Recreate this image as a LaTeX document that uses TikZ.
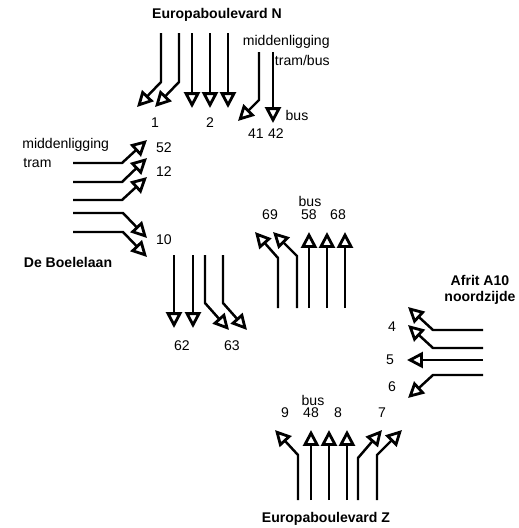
\documentclass[tikz,border=0pt]{standalone}
\usepackage{fontspec}
\setmainfont{Liberation Sans}
\usetikzlibrary{arrows.meta}
\tikzset{
  lane/.style={line width=1.4pt, -{Triangle[open,length=9pt,width=9pt,line width=1.6pt]}},
  lbl/.style={font=\fontsize{8pt}{9pt}\selectfont, inner sep=0pt},
  road/.style={font=\fontsize{8pt}{9pt}\selectfont\bfseries, inner sep=0pt, align=center}
}
\begin{document}
\begin{tikzpicture}[x=0.02cm,y=-0.02cm]
  \useasboundingbox (0,0) rectangle (519,528);
  % Europaboulevard N
  \node[road] (roadN) at (217,15) {Europaboulevard N};
  \draw[lane] (161,33) -- (161,82) -- (137,107);
  \draw[lane] (179,33) -- (179,82) -- (155,107);
  \draw[lane] (192,33) -- (192,108);
  \draw[lane] (210,33) -- (210,108);
  \draw[lane] (228,33) -- (228,108);
  \draw[lane] (259,52) -- (259,100) -- (238,121);
  \draw[lane] (273,52) -- (273,123);
  \node[lbl, anchor=east] (midN) at (330,42) {middenligging};
  \node[lbl, anchor=east] (tramN) at (330,60) {tram/bus};
  \node[lbl] (l1) at (155,123) {1};
  \node[lbl] (l2) at (210,123) {2};
  \node[lbl] (l41) at (256,134) {41};
  \node[lbl] (l42) at (276,134) {42};
  \node[lbl] (busN) at (297,115) {bus};
  % De Boelelaan
  \node[road] (roadW) at (68,262) {De Boelelaan};
  \draw[lane] (73,163) -- (122,163) -- (147,140);
  \draw[lane] (73,182) -- (122,182) -- (147,158);
  \draw[lane] (73,200) -- (122,200) -- (147,177);
  \draw[lane] (73,213) -- (123,213) -- (147,238);
  \draw[lane] (73,232) -- (123,232) -- (147,257);
  \node[lbl, anchor=west] (midW) at (22,145) {middenligging};
  \node[lbl, anchor=west] (tramW) at (23,163) {tram};
  \node[lbl] (l52) at (164,148) {52};
  \node[lbl] (l12) at (164,172) {12};
  \node[lbl] (l10) at (164,240) {10};
  % afslaande stroken midden
  \draw[lane] (278,308) -- (278,258) -- (255,232);
  \draw[lane] (297,308) -- (297,256) -- (273,232);
  \draw[lane] (309,308) -- (309,232);
  \draw[lane] (327,308) -- (327,232);
  \draw[lane] (345,308) -- (345,232);
  \node[lbl] (busM) at (310,201) {bus};
  \node[lbl] (l69) at (270,215) {69};
  \node[lbl] (l58) at (309,215) {58};
  \node[lbl] (l68) at (338,215) {68};
  \draw[lane] (174,255) -- (174,328);
  \draw[lane] (193,255) -- (193,328);
  \draw[lane] (205,255) -- (205,303) -- (229,330);
  \draw[lane] (223,255) -- (223,303) -- (247,330);
  \node[lbl] (l62) at (182,346) {62};
  \node[lbl] (l63) at (232,346) {63};
  % Afrit A10
  \node[road] (roadE) at (480,290) {Afrit A10\\noordzijde};
  \draw[lane] (483,330) -- (433,330) -- (408,307);
  \draw[lane] (483,348) -- (433,348) -- (408,325);
  \draw[lane] (483,360) -- (407,360);
  \draw[lane] (483,375) -- (433,375) -- (408,398);
  \node[lbl] (l4) at (392,327) {4};
  \node[lbl] (l5) at (390,360) {5};
  \node[lbl] (l6) at (392,387) {6};
  % Europaboulevard Z
  \node[road] (roadZ) at (326,519) {Europaboulevard Z};
  \draw[lane] (298,500) -- (298,455) -- (275,430);
  \draw[lane] (311,500) -- (311,430);
  \draw[lane] (329,500) -- (329,430);
  \draw[lane] (347,500) -- (347,430);
  \draw[lane] (358,500) -- (358,458) -- (382,430);
  \draw[lane] (377,500) -- (377,455) -- (402,430);
  \node[lbl] (busZ) at (313,400) {bus};
  \node[lbl] (l9) at (285,413) {9};
  \node[lbl] (l48) at (311,413) {48};
  \node[lbl] (l8) at (338,413) {8};
  \node[lbl] (l7) at (382,413) {7};
\end{tikzpicture}
\end{document}
